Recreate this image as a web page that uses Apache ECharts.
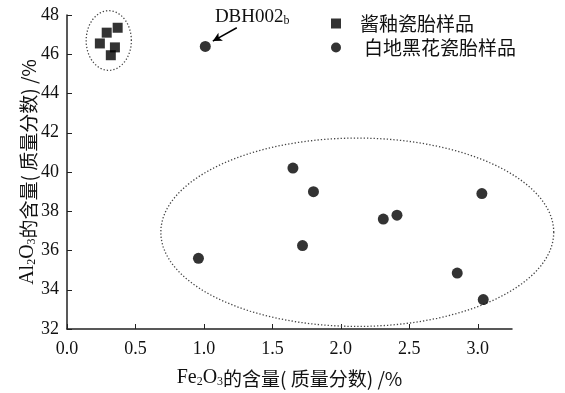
<!DOCTYPE html>
<html><head><meta charset="utf-8">
<script src="https://cdn.jsdelivr.net/npm/echarts@6/dist/echarts.min.js"></script>
<style>html,body{margin:0;padding:0;background:#fff}#c{width:565px;height:393px}</style>
</head><body><div id="c"></div>
<script>
// ---- data ----
const xTicks = [0, 0.5, 1.0, 1.5, 2.0, 2.5, 3.0];
const yTicks = [32, 34, 36, 38, 40, 42, 44, 46, 48];
const seriesNames = ['酱釉瓷胎样品', '白地黑花瓷胎样品'];
const squareX = [0.29, 0.37, 0.24, 0.35, 0.32];
const squareY = [47.1, 47.35, 46.55, 46.35, 45.95];
const circleX = [1.01, 1.65, 1.80, 3.03, 2.41, 2.31, 1.72, 0.96, 2.85, 3.04];
const circleY = [46.4, 40.2, 39.0, 38.9, 37.8, 37.6, 36.25, 35.6, 34.85, 33.5];
const calloutName = 'DBH002';
const calloutSub = 'b';
const calloutTarget = [1.01, 46.4];
// ellipses around groups: [cx, cy, rx, ry] in data units
const groupEllipses = [[0.305, 46.7, 0.165, 1.52], [2.12, 36.93, 1.435, 4.8]];

const serif = '"Liberation Serif","Noto Sans CJK SC",serif';
const cjk = '"Noto Sans CJK SC",sans-serif';
const chart = echarts.init(document.getElementById('c'), null, {renderer: 'canvas'});

function zip(a, b) { return a.map((v, i) => [v, b[i]]); }

const nameRich = {
  t: {fontFamily: serif, fontSize: 20, color: '#111', lineHeight: 22, verticalAlign: 'bottom'},
  s: {fontFamily: serif, fontSize: 12, color: '#111', lineHeight: 22, verticalAlign: 'bottom'},
  c: {fontFamily: cjk, fontSize: 19, color: '#111', lineHeight: 22, verticalAlign: 'bottom'}
};

chart.setOption({
  animation: false,
  backgroundColor: '#fff',
  grid: {left: 67, right: 53, top: 15, bottom: 56},
  legend: {
    orient: 'vertical', left: 326, top: 9, itemGap: 5,
    itemWidth: 10, itemHeight: 10,
    textStyle: {fontFamily: cjk, fontSize: 19, color: '#111', padding: [0, 0, 0, 14]},
    data: [{name: seriesNames[0], icon: 'rect'},
           {name: seriesNames[1], icon: 'circle', textStyle: {padding: [0, 0, 0, 18]}}]
  },
  xAxis: {
    type: 'value', min: 0, max: 3.25, interval: 0.5,
    axisLine: {show: true, lineStyle: {color: '#222', width: 1.5}},
    axisTick: {show: true, inside: true, length: 5, lineStyle: {color: '#222'}, customValues: xTicks},
    axisLabel: {customValues: xTicks, formatter: v => v.toFixed(1), fontFamily: serif, fontSize: 18, color: '#111', margin: 11},
    splitLine: {show: false},
    name: '{t|Fe}{s|2}{t|O}{s|3}{c|的含量( 质量分数) /%}',
    nameLocation: 'middle', nameGap: 37,
    nameTextStyle: {rich: nameRich}
  },
  yAxis: {
    type: 'value', min: 32, max: 48, interval: 2,
    axisLine: {show: true, lineStyle: {color: '#222', width: 1.5}},
    axisTick: {show: true, inside: true, length: 5, lineStyle: {color: '#222'}},
    axisLabel: {fontFamily: serif, fontSize: 18, color: '#111', margin: 8},
    splitLine: {show: false},
    name: '{t|Al}{s|2}{t|O}{s|3}{c|的含量( 质量分数) /%}',
    nameLocation: 'middle', nameGap: 29, nameRotate: 90, nameMoveOverlap: false,
    nameTextStyle: {rich: nameRich}
  },
  series: [
    {
      name: seriesNames[0], type: 'scatter', symbol: 'rect', symbolSize: 10,
      itemStyle: {color: '#000'}, data: zip(squareX, squareY)
    },
    {
      name: seriesNames[1], type: 'scatter', symbol: 'circle', symbolSize: 11,
      itemStyle: {color: '#000'}, data: zip(circleX, circleY),
      markLine: {
        silent: true, symbol: ['none', 'arrow'], symbolSize: [7, 9],
        lineStyle: {color: '#000', width: 1.5, type: 'solid'},
        label: {show: false},
        data: [[{coord: [1.24, 47.35]}, {coord: [calloutTarget[0] + 0.055, calloutTarget[1] + 0.27]}]]
      }
    },
    {
      type: 'custom', silent: true, z: 1,
      data: groupEllipses,
      encode: {x: 0, y: 1},
      renderItem: function (params, api) {
        const cx = api.value(0), cy = api.value(1), rx = api.value(2), ry = api.value(3);
        const pts = [];
        for (let i = 0; i <= 120; i++) {
          const t = i / 120 * Math.PI * 2;
          pts.push(api.coord([cx + rx * Math.cos(t), cy + ry * Math.sin(t)]));
        }
        return {type: 'polyline', shape: {points: pts},
          style: {stroke: '#444', fill: null, lineWidth: 1.3, lineDash: [1.3, 2.0]}};
      }
    }
  ]
});

const p = chart.convertToPixel({gridIndex: 0}, [1.08, 47.85]);
chart.setOption({
  graphic: [{
    type: 'text', left: p[0], top: p[1] - 10,
    style: {
      text: '{a|' + calloutName + '}{b|' + calloutSub + '}',
      rich: {
        a: {fontFamily: serif, fontSize: 19, fill: '#111', lineHeight: 22, verticalAlign: 'bottom'},
        b: {fontFamily: serif, fontSize: 12, fill: '#111', lineHeight: 22, verticalAlign: 'bottom'}
      }
    }
  }]
});
</script></body></html>
